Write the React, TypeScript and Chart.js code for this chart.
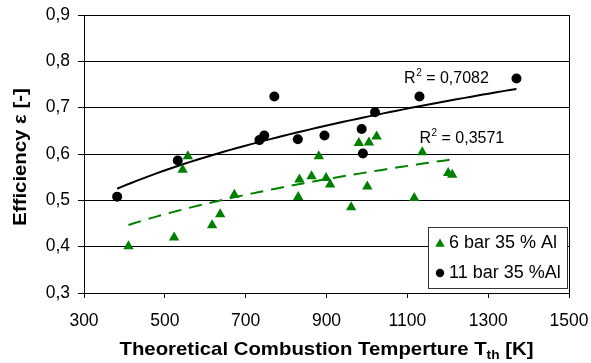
import React, { useEffect, useRef } from "react";
import { Chart, registerables } from "chart.js";

Chart.register(...registerables);

const sixBarTemperature = [410, 523, 544, 557, 617, 637, 672, 830, 833, 863, 881, 899, 909, 961, 980, 1001, 1005, 1024, 1117, 1137, 1201, 1211];
const sixBarEfficiency = [0.401, 0.42, 0.566, 0.595, 0.446, 0.47, 0.512, 0.507, 0.545, 0.552, 0.595, 0.548, 0.534, 0.485, 0.624, 0.53, 0.625, 0.638, 0.505, 0.604, 0.559, 0.555];
const elevenBarTemperature = [382, 532, 734, 746, 771, 829, 895, 987, 990, 1020, 1130, 1370];
const elevenBarEfficiency = [0.508, 0.586, 0.63, 0.64, 0.724, 0.632, 0.64, 0.654, 0.601, 0.69, 0.724, 0.763];

const xTickValues = [300, 500, 700, 900, 1100, 1300, 1500];
const yTickValues = [0.3, 0.4, 0.5, 0.6, 0.7, 0.8, 0.9];
const seriesNames = ["6 bar 35 % Al", "11 bar 35 %Al"];
const rSquaredTexts = ["0,3571", "0,7082"];
const xTitleParts = ["Theoretical Combustion Temperture T", "th", " [K]"];
const yTitle = "Efficiency \u03b5 [-]";

const GREEN = "#008000";
const FONT = "'Liberation Sans', Arial, sans-serif";

// Power trendline (least squares on ln y vs ln x), as a spreadsheet would fit it
function powerFit(xs: number[], ys: number[]) {
  const n = xs.length;
  const lx = xs.map((v) => Math.log(v));
  const ly = ys.map((v) => Math.log(v));
  const mx = lx.reduce((a, b) => a + b, 0) / n;
  const my = ly.reduce((a, b) => a + b, 0) / n;
  let sxy = 0;
  let sxx = 0;
  for (let i = 0; i < n; i++) {
    sxy += (lx[i] - mx) * (ly[i] - my);
    sxx += (lx[i] - mx) * (lx[i] - mx);
  }
  const b = sxy / sxx;
  const lnC = my - b * mx;
  return (x: number) => Math.exp(lnC + b * Math.log(x));
}

function trendPoints(xs: number[], ys: number[], steps = 60) {
  const f = powerFit(xs, ys);
  const lo = Math.min(...xs);
  const hi = Math.max(...xs);
  const pts: { x: number; y: number }[] = [];
  for (let i = 0; i <= steps; i++) {
    const x = lo + ((hi - lo) * i) / steps;
    pts.push({ x, y: f(x) });
  }
  return pts;
}

const TITLE_STRETCH = 1.1;

const decorPlugin = {
  id: "decor",
  afterDraw(chart: any) {
    const ctx = chart.ctx as CanvasRenderingContext2D;
    const area = chart.chartArea;
    const xs = chart.scales.x;
    const ys = chart.scales.y;
    ctx.save();

    // right border
    ctx.strokeStyle = "#000";
    ctx.lineWidth = 1;
    ctx.beginPath();
    ctx.moveTo(Math.round(area.right) + 0.5, area.top);
    ctx.lineTo(Math.round(area.right) + 0.5, area.bottom);
    ctx.stroke();

    // R² labels
    const drawR2 = (text: string, px: number, py: number) => {
      ctx.fillStyle = "#000";
      ctx.textBaseline = "alphabetic";
      ctx.textAlign = "left";
      ctx.font = `16px ${FONT}`;
      ctx.fillText("R", px, py);
      const wR = ctx.measureText("R").width;
      ctx.font = `10px ${FONT}`;
      ctx.fillText("2", px + wR + 0.5, py - 7);
      const w2 = ctx.measureText("2").width;
      ctx.font = `16px ${FONT}`;
      ctx.fillText(" = " + text, px + wR + w2 + 0.5, py);
    };
    drawR2(rSquaredTexts[1], xs.getPixelForValue(1092), ys.getPixelForValue(0.753));
    drawR2(rSquaredTexts[0], xs.getPixelForValue(1130), ys.getPixelForValue(0.624));

    // legend
    const lx = 428.5;
    const ly = 227.5;
    const lw = 139;
    const lh = 61;
    ctx.fillStyle = "#fff";
    ctx.fillRect(lx, ly, lw, lh);
    ctx.strokeStyle = "#333";
    ctx.lineWidth = 1;
    ctx.strokeRect(lx, ly, lw, lh);
    const tx = 440;
    const ty = 244;
    const r = 5.5;
    ctx.fillStyle = GREEN;
    ctx.beginPath();
    ctx.moveTo(tx, ty - r);
    ctx.lineTo(tx + r * 0.866, ty + r * 0.5);
    ctx.lineTo(tx - r * 0.866, ty + r * 0.5);
    ctx.closePath();
    ctx.fill();
    ctx.fillStyle = "#000";
    ctx.beginPath();
    ctx.arc(440, 273, 4.2, 0, Math.PI * 2);
    ctx.fill();
    ctx.font = `18px ${FONT}`;
    ctx.textBaseline = "middle";
    ctx.textAlign = "left";
    ctx.fillText(seriesNames[0], 449, 243);
    ctx.fillText(seriesNames[1], 449, 273);

    // x title
    ctx.fillStyle = "#000";
    ctx.textBaseline = "alphabetic";
    const bigFont = `bold 18.5px ${FONT}`;
    const subFont = `bold 12.5px ${FONT}`;
    ctx.font = bigFont;
    const w0 = ctx.measureText(xTitleParts[0]).width;
    const w2b = ctx.measureText(xTitleParts[2]).width;
    ctx.font = subFont;
    const w1 = ctx.measureText(xTitleParts[1]).width;
    const total = w0 + w1 + w2b;
    const cx = (area.left + area.right) / 2;
    ctx.save();
    ctx.translate(cx, 355);
    ctx.scale(TITLE_STRETCH, 1);
    let sx = -total / 2;
    ctx.font = bigFont;
    ctx.fillText(xTitleParts[0], sx, 0);
    sx += w0;
    ctx.font = subFont;
    ctx.fillText(xTitleParts[1], sx, 4);
    sx += w1;
    ctx.font = bigFont;
    ctx.fillText(xTitleParts[2], sx, 0);
    ctx.restore();

    // y title
    ctx.save();
    ctx.translate(20.5, 157);
    ctx.rotate(-Math.PI / 2);
    ctx.scale(TITLE_STRETCH, 1);
    ctx.font = bigFont;
    ctx.textAlign = "center";
    ctx.textBaseline = "middle";
    ctx.fillText(yTitle, 0, 0);
    ctx.restore();

    ctx.restore();
  },
};

export default function App() {
  const ref = useRef<HTMLCanvasElement | null>(null);

  useEffect(() => {
    document.body.style.margin = "0";
    const canvas = ref.current;
    if (!canvas) return;
    const tickFont = { family: FONT, size: 17.5 };
    const chart = new Chart(canvas, {
      type: "scatter",
      data: {
        datasets: [
          {
            label: seriesNames[1],
            data: elevenBarTemperature.map((x, i) => ({ x, y: elevenBarEfficiency[i] })),
            backgroundColor: "#000",
            borderColor: "#000",
            pointStyle: "circle",
            pointRadius: 5,
            borderWidth: 0,
          },
          {
            label: seriesNames[0],
            data: sixBarTemperature.map((x, i) => ({ x, y: sixBarEfficiency[i] })),
            backgroundColor: GREEN,
            borderColor: GREEN,
            pointStyle: "triangle",
            pointRadius: 6,
            borderWidth: 0,
          },
          {
            label: "trend11",
            data: trendPoints(elevenBarTemperature, elevenBarEfficiency),
            showLine: true,
            borderColor: "#000",
            borderWidth: 2,
            pointRadius: 0,
            fill: false,
          } as any,
          {
            label: "trend6",
            data: trendPoints(sixBarTemperature, sixBarEfficiency),
            showLine: true,
            borderColor: GREEN,
            borderWidth: 2,
            borderDash: [13, 8],
            pointRadius: 0,
            fill: false,
          } as any,
        ],
      },
      options: {
        responsive: false,
        animation: false,
        layout: { padding: { top: 15, right: 22, left: 0, bottom: 0 } },
        plugins: {
          legend: { display: false },
          tooltip: { enabled: false },
          title: { display: false },
        },
        scales: {
          x: {
            type: "linear",
            min: 300,
            max: 1500,
            afterBuildTicks: (axis: any) => {
              axis.ticks = xTickValues.map((value) => ({ value }));
            },
            afterFit: (axis: any) => {
              axis.height = 70;
              axis.paddingLeft = 10;
              axis.paddingRight = 10;
            },
            ticks: {
              font: tickFont,
              color: "#000",
              padding: 13,
              maxRotation: 0,
              autoSkip: false,
              callback: (v: any) => String(v),
            },
            grid: {
              drawOnChartArea: false,
              drawTicks: true,
              tickLength: 5,
              color: "#000",
              lineWidth: 1,
            },
            border: { display: true, color: "#000", width: 1 },
          },
          y: {
            type: "linear",
            min: 0.3,
            max: 0.9,
            afterBuildTicks: (axis: any) => {
              axis.ticks = yTickValues.map((value) => ({ value }));
            },
            afterFit: (axis: any) => {
              axis.width = 84;
              axis.paddingTop = 5;
              axis.paddingBottom = 5;
            },
            ticks: {
              font: tickFont,
              color: "#000",
              padding: 8,
              autoSkip: false,
              callback: (v: any) => Number(v).toFixed(1).replace(".", ","),
            },
            grid: {
              drawOnChartArea: true,
              drawTicks: true,
              tickLength: 6,
              color: "#000",
              lineWidth: 1,
            },
            border: { display: true, color: "#000", width: 1 },
          },
        },
      },
      plugins: [decorPlugin],
    });
    return () => chart.destroy();
  }, []);

  return <canvas ref={ref} width={591} height={363} style={{ display: "block" }} />;
}
